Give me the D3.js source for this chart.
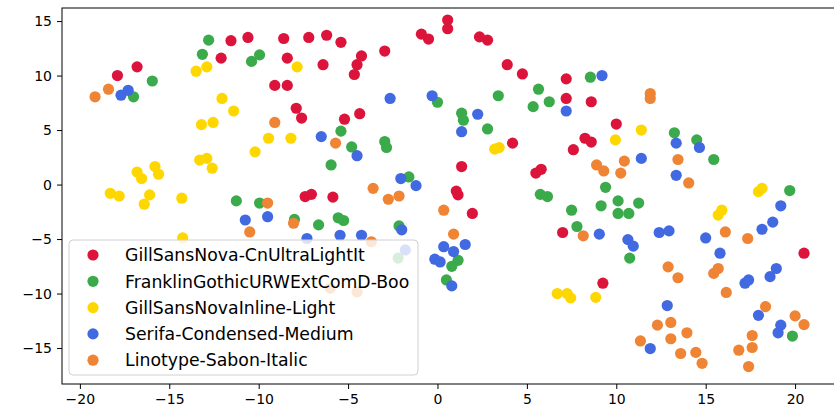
<!DOCTYPE html>
<html><head><meta charset="utf-8">
<script src="https://cdn.jsdelivr.net/npm/d3@7"></script>
<style>body{margin:0;background:#fff}svg{display:block}text{font-family:"DejaVu Sans",sans-serif}</style>
</head><body><svg id="c" width="834" height="418"></svg>
<script>
const seriesNames = ["GillSansNova-CnUltraLightIt","FranklinGothicURWExtComD-Boo","GillSansNovaInline-Light","Serifa-Condensed-Medium","Linotype-Sabon-Italic"];
const seriesColors = ["#dc143c","#3aaa4b","#ffd700","#4169e1","#ee8434"];
const xTicks = [-20,-15,-10,-5,0,5,10,15,20];
const yTicks = [-15,-10,-5,0,5,10,15];

const redPts = [[-17.9,10.0],[-16.8,10.8],[-12.1,11.6],[-11.55,13.2],[-10.6,13.5],[-8.6,13.4],[-7.2,13.5],[-6.2,13.7],[-5.4,13.05],[-8.4,11.6],[-6.4,11.0],[-9.1,9.1],[-8.4,9.1],[-4.25,11.8],[-4.5,11.0],[-4.65,10.1],[-2.95,12.25],[-0.9,13.8],[-0.5,13.35],[0.57,15.1],[0.57,14.3],[-7.9,7.0],[-7.6,6.1],[-5.2,6.0],[-4.35,6.5],[2.35,13.55],[2.8,13.25],[3.9,11.0],[4.75,10.15],[7.2,9.7],[7.2,7.9],[8.6,7.6],[10.0,5.55],[8.25,4.25],[8.6,3.9],[4.2,3.8],[7.6,3.2],[1.35,1.65],[5.5,1.05],[5.8,1.4],[1.05,-0.6],[1.15,-0.95],[1.95,-2.65],[7.0,-4.4],[-7.4,-1.1],[-7.05,-0.9],[-5.85,-1.15],[20.5,-6.3],[9.25,-9.05]];
const greenPts = [[-12.8,13.25],[-13.15,11.95],[-15.95,9.5],[-17.0,8.05],[-10.4,11.3],[-9.95,11.9],[0.0,7.55],[-5.4,4.9],[-4.8,3.45],[-5.95,1.8],[-2.95,3.95],[-2.85,3.4],[-1.6,0.7],[-9.95,-1.7],[-8.0,-3.2],[-6.65,-3.7],[-5.55,-3.05],[-5.25,-3.3],[-2.15,-3.8],[-11.25,-1.5],[1.35,6.55],[1.45,5.9],[2.8,5.1],[3.4,8.15],[5.65,8.75],[5.35,7.15],[6.25,7.6],[8.55,9.85],[5.75,-0.9],[6.15,-1.1],[9.4,-0.25],[7.5,-2.35],[9.15,-1.95],[10.1,-1.5],[10.1,-2.65],[10.7,-2.65],[11.25,-1.7],[7.8,-3.85],[1.15,-6.95],[10.75,-6.75],[13.25,4.75],[14.5,4.1],[15.45,2.3],[19.7,-0.55],[19.85,-13.9],[0.8,-7.5],[0.5,-8.75],[-2.2,-6.75]];
const yellowPts = [[-13.5,10.4],[-12.9,10.8],[-12.05,7.9],[-11.4,6.75],[-13.2,5.5],[-12.55,5.7],[-7.85,10.8],[-9.45,4.25],[-8.2,4.25],[-10.2,3.0],[-13.3,2.25],[-12.9,2.4],[-12.6,1.5],[-16.8,1.15],[-16.55,0.55],[-15.8,1.65],[-15.6,0.95],[-18.3,-0.8],[-17.8,-1.05],[-16.1,-0.95],[-16.4,-1.8],[-14.3,-1.25],[-14.25,-4.9],[11.4,5.0],[3.2,3.25],[3.45,3.4],[9.95,4.1],[17.95,-0.65],[18.15,-0.35],[15.7,-2.8],[15.9,-2.35],[6.7,-10.0],[7.25,-10.0],[7.45,-10.4],[8.85,-10.35]];
const bluePts = [[-17.7,8.2],[-17.3,8.65],[-2.65,7.9],[-0.3,8.15],[-6.5,4.4],[9.2,10.0],[2.25,6.45],[1.35,4.85],[7.2,6.75],[-4.5,2.65],[-2.05,0.55],[-1.2,-0.1],[-9.5,-2.95],[-5.45,-4.65],[-4.25,-4.65],[-7.3,-4.95],[-2.0,-4.15],[0.35,-5.7],[-0.15,-6.85],[-10.75,-3.25],[1.55,-5.5],[0.9,-6.15],[9.05,-4.55],[10.65,-5.05],[10.95,-5.65],[11.4,2.4],[13.35,3.8],[14.65,3.4],[13.35,0.85],[19.2,-1.95],[18.75,-3.45],[18.15,-4.1],[12.4,-4.4],[12.95,-4.25],[15.0,-4.9],[15.8,-6.3],[18.95,-7.7],[18.6,-8.45],[17.2,-9.05],[17.4,-8.75],[12.85,-11.1],[17.95,-12.0],[19.2,-12.9],[19.05,-13.6],[11.9,-15.05],[0.15,-7.1],[0.8,-9.3],[-1.8,-6.0]];
const orangePts = [[-19.15,8.05],[-18.4,8.75],[-9.1,5.7],[11.9,8.35],[11.9,7.9],[-5.7,3.8],[-3.6,-0.35],[-2.75,-1.35],[-2.15,-1.05],[-9.5,-1.7],[-8.05,-3.55],[0.35,-2.35],[-3.7,-5.25],[-10.5,-4.35],[8.9,1.8],[9.3,1.25],[10.45,2.15],[10.25,1.05],[8.15,-4.7],[0.9,-4.55],[13.45,2.3],[14.05,0.15],[16.1,-4.35],[17.35,-4.95],[12.9,-7.55],[13.45,-8.55],[15.45,-8.15],[15.7,-7.7],[16.15,-9.9],[18.35,-11.2],[20.0,-12.05],[20.5,-12.85],[12.3,-12.9],[13.05,-12.65],[13.05,-14.15],[13.95,-13.6],[13.6,-15.5],[14.45,-15.4],[14.8,-16.4],[11.35,-14.35],[16.85,-15.2],[17.6,-13.85],[17.6,-14.95],[17.4,-16.7],[-6.0,-9.5],[-4.5,-9.85]];
const allSeries = [redPts, greenPts, yellowPts, bluePts, orangePts];

const svg = d3.select("#c");
const L = 62, R = 838, T = 8, B = 384;
const x = d3.scaleLinear().domain([-21.0, 22.4]).range([L, R]);
const y = d3.scaleLinear().domain([-18.3, 16.2]).range([B, T]);

const gx = svg.append("g").attr("transform", `translate(0,${B})`)
  .call(d3.axisBottom(x).tickValues(xTicks).tickSize(5).tickPadding(5).tickFormat(d => d < 0 ? "\u2212" + Math.abs(d) : d));
const gy = svg.append("g").attr("transform", `translate(${L},0)`)
  .call(d3.axisLeft(y).tickValues(yTicks).tickSize(5).tickPadding(5).tickFormat(d => d < 0 ? "\u2212" + Math.abs(d) : d));
[gx, gy].forEach(g => {
  g.select(".domain").remove();
  g.selectAll("text").attr("font-size", 14).attr("fill", "#000").style("font-family", "DejaVu Sans");
  g.selectAll("line").attr("stroke", "#000");
});

const pts = svg.append("g");
allSeries.forEach((s, i) => {
  pts.selectAll(null).data(s).enter().append("circle")
    .attr("cx", d => x(d[0])).attr("cy", d => y(d[1])).attr("r", 5.6)
    .attr("fill", seriesColors[i]);
});

svg.append("rect").attr("x", L).attr("y", T).attr("width", R - L).attr("height", B - T)
  .attr("fill", "none").attr("stroke", "#000").attr("stroke-width", 1);

const lg = svg.append("g");
lg.append("rect").attr("x", 69).attr("y", 240).attr("width", 349).attr("height", 135)
  .attr("rx", 4).attr("fill", "#fff").attr("fill-opacity", 0.8).attr("stroke", "#d0d0d0");
seriesNames.forEach((n, i) => {
  const cy = 255 + i * 26.3;
  lg.append("circle").attr("cx", 93).attr("cy", cy).attr("r", 5.6).attr("fill", seriesColors[i]);
  lg.append("text").attr("x", 125).attr("y", cy).attr("dy", "0.36em").attr("font-size", 17.3).text(n);
});
</script></body></html>
